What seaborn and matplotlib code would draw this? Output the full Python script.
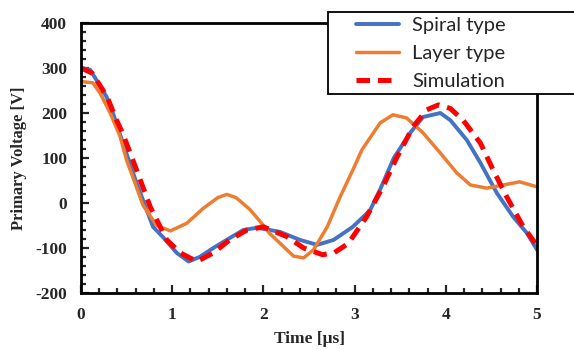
import matplotlib
matplotlib.use("Agg")
import matplotlib.pyplot as plt
import seaborn as sns
from matplotlib.patches import Rectangle
from matplotlib.ticker import MultipleLocator

# values
spiral_t = [0, 0.1, 0.17, 0.28, 0.35, 0.46, 0.61, 0.79, 0.9, 1.05, 1.18, 1.3, 1.45, 1.63, 1.78,
            1.93, 2.18, 2.4, 2.59, 2.77, 2.98, 3.17, 3.28, 3.43, 3.61, 3.75, 3.94, 4.05, 4.23,
            4.38, 4.56, 4.74, 4.89, 5.0]
spiral_v = [300, 296, 273, 236, 200, 133, 44, -53, -76, -111, -130, -120, -100, -78, -60,
            -55, -64, -82, -93, -82, -53, -16, 30, 100, 156, 191, 200, 184, 140,
            89, 22, -31, -67, -104]

layer_t = [0, 0.13, 0.21, 0.32, 0.43, 0.5, 0.6, 0.68, 0.83, 0.98, 1.16, 1.34, 1.5, 1.6, 1.7,
           1.85, 1.96, 2.07, 2.18, 2.33, 2.44, 2.55, 2.7, 2.84, 2.98, 3.08, 3.28, 3.42, 3.57,
           3.75, 3.94, 4.12, 4.27, 4.45, 4.63, 4.81, 5.0]
layer_v = [270, 267, 244, 200, 147, 95, 40, -5, -50, -62, -45, -12, 12, 19, 12,
           -14, -40, -68, -89, -118, -122, -104, -53, 13, 73, 118, 178, 196, 189,
           156, 111, 67, 40, 33, 40, 47, 36]

sim_t = [0, 0.12, 0.24, 0.3, 0.39, 0.45, 0.54, 0.76, 0.94, 1.09, 1.27, 1.45, 1.63, 1.82, 2.0,
         2.26, 2.44, 2.65, 2.78, 2.93, 3.13, 3.31, 3.46, 3.64, 3.79, 3.92, 4.05, 4.19, 4.38,
         4.52, 4.67, 4.85, 4.98, 5.0]
sim_v = [300, 289, 251, 229, 184, 158, 111, -9, -82, -111, -130, -111, -82, -60, -53,
         -75, -100, -115, -110, -90, -31, 36, 100, 169, 207, 218, 210, 184, 133,
         73, 13, -53, -89, -95]

labels = ["Spiral type", "Layer type", "Simulation"]

sns.set_style("white")
plt.rcParams["axes.unicode_minus"] = False

fig = plt.figure(figsize=(5.74, 3.5), dpi=100)
ax = fig.add_axes([81/574, 1 - 293/350, (537 - 81)/574, (293 - 23)/350])

sns.lineplot(x=spiral_t, y=spiral_v, ax=ax, color="#4472C4", lw=2.8, label=labels[0])
sns.lineplot(x=layer_t, y=layer_v, ax=ax, color="#ED7D31", lw=2.5, label=labels[1])
sns.lineplot(x=sim_t, y=sim_v, ax=ax, color="#FF0000", lw=3.6, label=labels[2],
             dashes=False, linestyle=(0, (2.7, 1.6)))

ax.set_xlim(0, 5)
ax.set_ylim(-200, 400)
ax.xaxis.set_major_locator(MultipleLocator(1))
ax.xaxis.set_minor_locator(MultipleLocator(0.2))
ax.yaxis.set_major_locator(MultipleLocator(100))
ax.yaxis.set_minor_locator(MultipleLocator(20))
ax.tick_params(which="both", bottom=True, left=True, top=False, right=False)
ax.tick_params(which="major", direction="in", length=6, width=1.6, pad=10)
ax.tick_params(which="minor", direction="in", length=3.5, width=1.6)
for s in ax.spines.values():
    s.set_linewidth(2)
    s.set_color("black")
plt.setp(ax.get_xticklabels() + ax.get_yticklabels(), family="Liberation Serif",
         fontweight="bold", fontsize=12.5)

ax.set_xlabel("Time [μs]", family="Liberation Serif", fontweight="bold", fontsize=12.5, labelpad=6)
ax.set_ylabel("Primary Voltage [V]", family="Liberation Serif", fontweight="bold",
              fontsize=12, labelpad=6)

handles, labs = ax.get_legend_handles_labels()
ax.get_legend().remove()

# legend box runs past the right edge of the picture
box = Rectangle((328/574, 1 - 94/350), 0.5, (94 - 12)/350, transform=fig.transFigure,
                facecolor="white", edgecolor="black", lw=1.3, zorder=5)
fig.patches.append(box)
fig.legend(handles, labs, loc="upper left", bbox_to_anchor=(352/574, 1 - 13/350),
           frameon=False, prop={"family": "Lato", "size": 14.5}, handlelength=2.15,
           handletextpad=0.65, labelspacing=0.55, borderpad=0.2,
           borderaxespad=0).set_zorder(6)

fig.savefig("out.png", dpi=100)
